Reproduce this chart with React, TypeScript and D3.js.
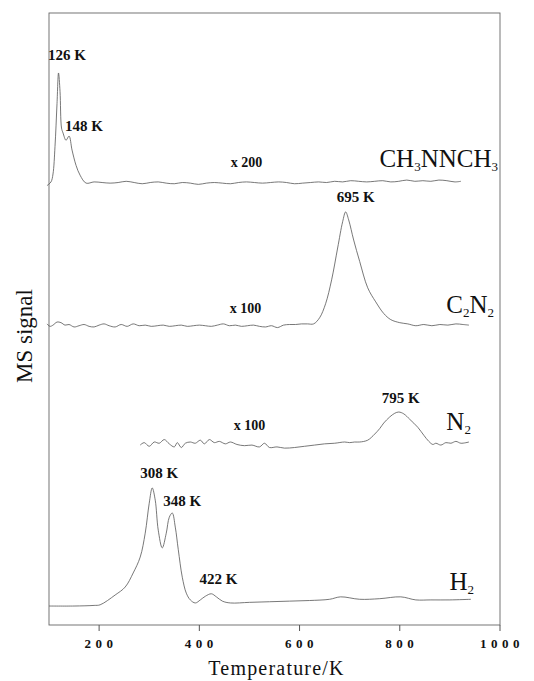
import * as React from "react"
import * as d3 from "d3"

// temperature (K) / signal (arb. units above each trace's own baseline)
const ch3Temp = [96, 104, 108, 112, 116, 119, 122, 125, 128, 134, 140, 146, 154, 162, 174, 190, 206, 222, 238, 254, 270, 286, 302, 318, 334, 350, 366, 382, 398, 414, 430, 446, 462, 478, 494, 510, 526, 542, 558, 574, 590, 606, 622, 638, 654, 670, 686, 702, 718, 734, 750, 766, 782, 798, 814, 830, 846, 862, 878, 894, 910, 922]
const ch3Signal = [-0.4, 0.2, 1.5, 6, 13, 18, 15, 9, 8.2, 7.0, 7.7, 5.4, 2.9, 1.3, 0, 0.2, 0.1, 0, 0.1, 0.3, 0.1, -0.1, 0.1, 0.2, 0, -0.1, 0.1, 0, -0.2, 0, 0.1, 0, -0.1, 0.1, 0.2, 0.1, 0, 0.1, 0.2, 0.1, -0.1, 0, 0.1, 0.2, 0.1, 0.3, 0.2, 0.4, 0.3, 0.2, 0.3, 0.4, 0.2, 0.3, 0.5, 0.3, 0.4, 0.3, 0.5, 0.4, 0.2, 0.3]

const c2n2Temp = [96, 102, 108, 116, 124, 132, 140, 150, 160, 170, 180, 190, 200, 210, 220, 232, 244, 256, 268, 280, 292, 304, 316, 328, 340, 352, 364, 376, 388, 400, 412, 424, 436, 448, 460, 472, 484, 496, 508, 520, 532, 544, 556, 568, 580, 592, 604, 616, 628, 640, 652, 664, 676, 686, 692, 698, 708, 720, 736, 752, 768, 782, 800, 816, 832, 848, 864, 880, 896, 912, 926, 938]
const c2n2Signal = [0.3, -0.1, 0.1, 0.6, 0.5, 0.1, 0.2, -0.2, 0, 0.2, -0.1, -0.2, 0.1, 0.3, 0, -0.2, 0.2, -0.1, 0.3, 0, 0.1, -0.1, 0, 0.1, -0.1, 0, 0.1, -0.1, 0, 0.1, 0, -0.1, 0.1, 0.3, 0, 0.1, -0.1, 0, 0.1, -0.1, -0.2, 0, -0.3, 0.1, 0.2, 0.2, 0.3, 0.3, 0.3, 1.3, 3.6, 7.5, 12.7, 17, 18.6, 17.3, 14, 10.5, 6.2, 3.9, 2.0, 1.0, 0.5, 0.3, 0, 0.2, 0, 0.2, 0.1, 0.3, 0.2, 0.1]

const n2Temp = [282, 290, 300, 310, 320, 330, 340, 350, 356, 364, 372, 382, 392, 402, 410, 420, 430, 440, 452, 462, 475, 490, 505, 520, 530, 540, 555, 570, 590, 610, 630, 650, 670, 690, 700, 710, 720, 736, 750, 760, 768, 780, 790, 798, 808, 820, 836, 848, 858, 866, 872, 882, 892, 902, 912, 922, 938]
const n2Signal = [0, 0.4, -0.2, 0.5, 0.3, 0.9, 0.2, -0.3, 0.4, -0.4, 0.3, 0.5, 0.3, 0.8, 0.2, 0.9, 0.4, 0.6, 0.2, 0.5, 0.1, -0.1, 0, -0.3, 0.3, -0.4, -0.3, -0.5, -0.4, -0.2, 0, 0.2, 0.3, 0.5, 0.4, 0.5, 0.5, 0.8, 1.8, 2.7, 3.6, 4.6, 5.2, 5.4, 5.1, 4.2, 2.9, 1.6, 0.6, 0.1, 0.3, 0, 0.4, 0.3, 0.6, 0.3, 0.5]

const h2Temp = [100, 150, 190, 202, 232, 252, 268, 282, 292, 300, 306, 312, 318, 326, 334, 340, 346, 352, 358, 366, 374, 382, 392, 402, 412, 424, 434, 446, 462, 500, 540, 580, 620, 660, 682, 720, 760, 802, 832, 862, 900, 942]
const h2Signal = [0, 0, 0.1, 0.2, 1.8, 3.1, 5.4, 8.0, 11.9, 16.8, 19.3, 17.3, 12.4, 9.5, 11.9, 14.5, 15.2, 12.9, 9.2, 4.7, 2.1, 1.0, 0.5, 1.0, 1.6, 2.0, 1.5, 0.8, 0.5, 0.6, 0.7, 0.8, 0.9, 1.1, 1.5, 1.1, 1.2, 1.5, 1.0, 1.0, 1.0, 1.1]

// vertical offset of each trace in the stacked plot
const traceOffsets = [72.2, 48.9, 29.4, 3.1]
const traceNames = [["CH", "3", "NNCH", "3"], ["C", "2", "N", "2"], ["N", "2"], ["H", "2"]]
const traceNameAt = [[996, 74.8], [988, 51], [942, 31.9], [948, 5.7]]

const peakLabels = ["126 K", "148 K", "695 K", "795 K", "308 K", "348 K", "422 K"]
const peakLabelAt = [[98, 92.3, "start"], [132, 80.7, "start"], [712, 69.1, "middle"], [802, 36.3, "middle"], [320, 24.0, "middle"], [366, 19.4, "middle"], [438, 6.7, "middle"]]
const gainLabels = ["x 200", "x 100", "x 100"]
const gainLabelAt = [[494, 74.8], [492, 51], [500, 31.9]]

const xTicks = [200, 400, 600, 800, 1000]

export default function App() {
    const [w, h] = [534, 681]
    const m = { top: 13, bottom: 56, left: 49, right: 34 }

    const xScale = d3.scaleLinear().domain([100, 1000]).range([m.left, w - m.right])
    const yScale = d3.scaleLinear().domain([0, 100]).range([h - m.bottom, m.top])

    const traces = [
        [ch3Temp, ch3Signal],
        [c2n2Temp, c2n2Signal],
        [n2Temp, n2Signal],
        [h2Temp, h2Signal],
    ]

    const paths = traces.map(([ts, ss], i) => {
        const line = d3.line<number>()
            .x((_, j) => xScale(ts[j]))
            .y(d => yScale(d + traceOffsets[i]))
            .curve(d3.curveCatmullRom.alpha(0.5))
        return (
            <path key={i} d={line(ss) ?? ""} fill="none" stroke="#555" strokeWidth={0.8} />
        )
    })

    const serif = "'Liberation Serif', 'Times New Roman', serif"
    const [x0, x1] = xScale.range()
    const [yb, yt] = yScale.range()

    return (
        <svg width={w} height={h} style={{ position: "absolute", left: 0, top: 0, background: "#fff" }}>
            <rect x={x0} y={yt} width={x1 - x0} height={yb - yt} fill="none" stroke="#666" strokeWidth={0.9} />
            {xTicks.map(t => (
                <g key={t}>
                    <line x1={xScale(t)} x2={xScale(t)} y1={yb} y2={yb + 6} stroke="#555" />
                    <text x={xScale(t) + 2} y={yb + 23} textAnchor="middle" fontFamily={serif} fontSize={13}
                        fontWeight="bold" letterSpacing={4.5} fill="#111">{t}</text>
                </g>
            ))}
            <text x={(x0 + x1) / 2 + 2} y={675} textAnchor="middle" fontFamily={serif} fontSize={20}
                letterSpacing={1.2} fill="#111">Temperature/K</text>
            <text transform={`translate(32,${(yt + yb) / 2 + 17}) rotate(-90)`} textAnchor="middle"
                fontFamily={serif} fontSize={23} fill="#111">MS signal</text>
            {paths}
            {peakLabels.map((s, i) => (
                <text key={s} x={xScale(peakLabelAt[i][0] as number)} y={yScale(peakLabelAt[i][1] as number)}
                    textAnchor={peakLabelAt[i][2] as string} fontFamily={serif} fontSize={15}
                    fontWeight="bold" fill="#111">{s}</text>
            ))}
            {gainLabels.map((s, i) => (
                <text key={i} x={xScale(gainLabelAt[i][0])} y={yScale(gainLabelAt[i][1])} textAnchor="middle"
                    fontFamily={serif} fontSize={14} fontWeight="bold" fill="#111">{s}</text>
            ))}
            {traceNames.map((parts, i) => (
                <text key={i} x={xScale(traceNameAt[i][0])} y={yScale(traceNameAt[i][1])} textAnchor="end"
                    fontFamily={serif} fontSize={25} fill="#111">
                    {parts.map((p, j) => j % 2 === 0
                        ? <tspan key={j} fontSize={25} dy={j === 0 ? 0 : -4}>{p}</tspan>
                        : <tspan key={j} fontSize={13} dy={4}>{p}</tspan>)}
                </text>
            ))}
        </svg>
    )
}
